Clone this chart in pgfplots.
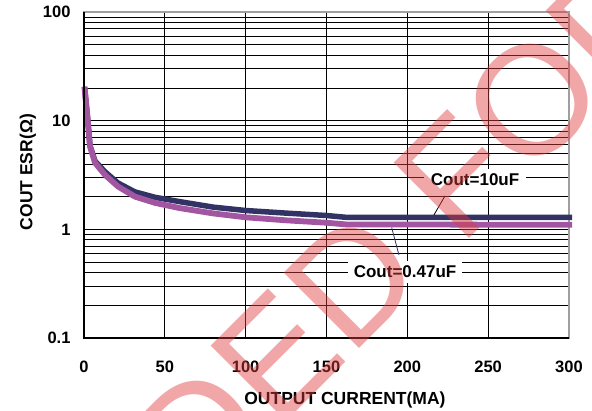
\documentclass[border=0pt]{standalone}
\usepackage{pgfplots}
\pgfplotsset{compat=1.18}
\usepackage{fontspec}
\setmainfont{Liberation Sans}
\definecolor{navyline}{RGB}{50,50,100}
\definecolor{purpline}{RGB}{162,86,162}
\definecolor{wmred}{RGB}{225,60,60}
\begin{document}
\begin{tikzpicture}
\useasboundingbox (-84pt,-73pt) rectangle (508pt,338pt);
\clip (-84pt,-73pt) rectangle (508pt,338pt);
\begin{axis}[
  at={(0pt,0pt)}, anchor=south west,
  scale only axis, width=485pt, height=326pt,
  xmin=0, xmax=300, ymode=log, ymin=0.1, ymax=100,
  xtick={0,50,...,300}, xticklabels={0,50,100,150,200,250,300},
  ytick={0.1,1,10,100}, yticklabels={0.1,1,10,100},
  minor ytick={0.2,0.3,0.4,0.5,0.6,0.7,0.8,0.9,2,3,4,5,6,7,8,9,20,30,40,50,60,70,80,90},
  xmajorgrids, ymajorgrids, yminorgrids,
  major grid style={black, line width=0.8pt},
  minor grid style={black, line width=0.8pt},
  major tick length=0pt, minor tick length=0pt,
  axis line style={draw=gray!75, line width=1.6pt},
  ticklabel style={font=\fontsize{16.5}{18}\selectfont\bfseries},
  xticklabel style={yshift=-19pt},
  yticklabel style={xshift=-10pt},
  label style={font=\fontsize{17.5}{19}\selectfont\bfseries},
  xlabel={OUTPUT CURRENT(MA)},
  ylabel={COUT ESR(Ω)},
  xlabel style={at={(ticklabel cs:0.538)}, anchor=near ticklabel, yshift=-13pt},
  ylabel style={at={(ticklabel cs:0.509)}},
  clip=false,
]
% Cout = 10uF
\addplot[navyline, line width=5.5pt, line join=round] coordinates {
  (0.3,20.5) (2.3,10.2) (3.7,5.9) (6.8,4.25) (13,3.38) (21,2.67) (31.5,2.21)
  (44,1.97) (59,1.80) (80,1.60) (100,1.49) (125,1.41) (150,1.34) (162,1.29) (302,1.29)};
% Cout = 0.47uF
\addplot[purpline, line width=5.8pt, line join=round] coordinates {
  (0.3,20.5) (2.3,10.2) (3.7,5.8) (6.8,4.1) (13,3.17) (21,2.48) (31.5,2.0)
  (44,1.75) (59,1.57) (80,1.40) (100,1.29) (125,1.21) (150,1.15) (162,1.11) (302,1.10)};
\draw[black, line width=1.6pt] (rel axis cs:0,1) -- (rel axis cs:0,0) -- (rel axis cs:1,0);
\draw[black, line width=0.8pt] (axis cs:223.3,2.03) -- (axis cs:216.5,1.36);
\node[fill=white, inner xsep=7pt, inner ysep=5pt, font=\fontsize{17}{19}\selectfont\bfseries]
  at (axis cs:241.9,2.855) {Cout=10uF};
\draw[navyline, line width=0.8pt] (axis cs:194.8,0.582) -- (axis cs:190.3,1.04);
\node[fill=white, inner xsep=6pt, inner ysep=5pt, font=\fontsize{17}{19}\selectfont\bfseries]
  at (axis cs:198.6,0.406) {Cout=0.47uF};
\end{axis}
% watermark
\node[rotate=45, anchor=base west, inner sep=0pt, text=wmred, text opacity=0.45,
  font={\fontsize{155}{155}\selectfont}] at (376pt,90pt) {FOR NEW DESIGN};
\node[rotate=45, anchor=base east, inner sep=0pt, text=wmred, text opacity=0.45,
  font={\fontsize{155}{155}\selectfont}] at (345.6pt,59.6pt) {NOT RECOMMENDED};
\end{tikzpicture}
\end{document}
